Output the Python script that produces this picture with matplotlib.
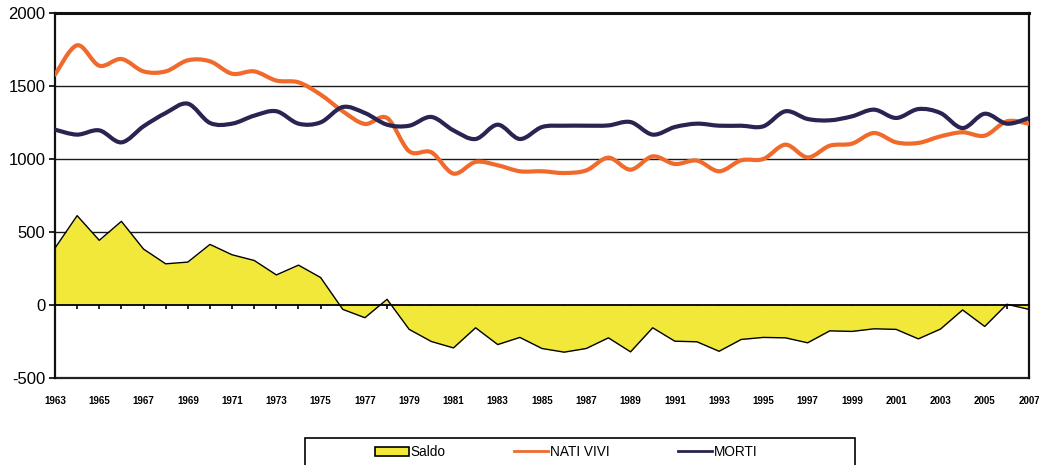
import numpy as np
import matplotlib
matplotlib.use("Agg")
import matplotlib.pyplot as plt
from matplotlib.path import Path
from matplotlib.patches import PathPatch, Rectangle, Patch
from matplotlib.lines import Line2D

plt.rcParams['font.family'] = ['Liberation Sans', 'DejaVu Sans']

years = list(range(1963, 2008))

nati_vivi = [1578, 1779, 1639, 1685, 1600, 1600, 1676, 1669, 1584, 1600,
             1537, 1525, 1441, 1327, 1240, 1281, 1053, 1046, 900, 980,
             957, 916, 916, 904, 922, 1009, 927, 1018, 966, 989,
             916, 991, 1000, 1098, 1011, 1091, 1105, 1178, 1114, 1110,
             1155, 1183, 1160, 1258, 1242]

morti = [1201, 1167, 1196, 1114, 1224, 1315, 1379, 1247, 1242, 1297,
         1327, 1242, 1251, 1356, 1315, 1235, 1228, 1288, 1196, 1137,
         1235, 1137, 1219, 1228, 1228, 1230, 1253, 1167, 1219, 1242,
         1228, 1228, 1224, 1327, 1274, 1265, 1292, 1338, 1281, 1342,
         1315, 1212, 1310, 1242, 1281]

saldo = [390, 612, 443, 573, 383, 282, 294, 415, 344, 305,
         206, 273, 188, -30, -87, 39, -167, -250, -294, -156,
         -271, -222, -298, -323, -298, -225, -321, -156, -248, -252,
         -317, -236, -222, -225, -259, -177, -181, -163, -167, -232,
         -165, -34, -147, 5, -30]

year_labels = [str(y) for y in years[::2]]

C_NATI = '#F06A2C'
C_MORTI = '#2A2452'
C_SALDO = '#F2E83A'


def smooth_path(xs, ys):
    """Bezier path through the points, Catmull-Rom style (like spreadsheet smoothed lines)."""
    pts = np.column_stack([xs, ys]).astype(float)
    n = len(pts)
    verts = [pts[0]]
    codes = [Path.MOVETO]
    for i in range(n - 1):
        p0 = pts[i - 1] if i > 0 else pts[i]
        p1 = pts[i]
        p2 = pts[i + 1]
        p3 = pts[i + 2] if i + 2 < n else pts[i + 1]
        c1 = p1 + (p2 - p0) / 6.0
        c2 = p2 - (p3 - p1) / 6.0
        verts += [c1, c2, p2]
        codes += [Path.CURVE4] * 3
    return Path(verts, codes)


fig = plt.figure(figsize=(10.39, 4.65), dpi=100)
ax = fig.add_axes([55 / 1039, 1 - 378 / 465, 974 / 1039, 365 / 465])

ax.set_xlim(1963, 2007)
ax.set_ylim(-500, 2000)

# horizontal gridlines
for yv in (500, 1000, 1500):
    ax.axhline(yv, color='#1a1a1a', lw=1.0, zorder=1)

# balance area
ax.fill_between(years, saldo, 0, color=C_SALDO, lw=0, zorder=2)
ax.plot(years, saldo, color='black', lw=1.0, zorder=3)

# births and deaths as smoothed lines
ax.add_patch(PathPatch(smooth_path(years, nati_vivi), fill=False,
                       edgecolor=C_NATI, lw=3.0, capstyle='round',
                       joinstyle='round', zorder=4))
ax.add_patch(PathPatch(smooth_path(years, morti), fill=False,
                       edgecolor=C_MORTI, lw=3.0, capstyle='round',
                       joinstyle='round', zorder=5))

# spines
for s in ('left', 'right'):
    ax.spines[s].set_linewidth(1.6)
    ax.spines[s].set_color('#111111')
ax.spines['top'].set_linewidth(2.2)
ax.spines['top'].set_color('#111111')
ax.spines['bottom'].set_position(('data', 0))
ax.spines['bottom'].set_linewidth(1.3)
ax.spines['bottom'].set_color('black')
ax.spines['bottom'].set_zorder(6)

# year ticks on the zero line, labels along the bottom
ax.set_xticks(years)
ax.tick_params(axis='x', direction='out', length=3, width=1.2,
               labelbottom=False, color='black')
sec = ax.secondary_xaxis(0)
sec.set_xticks(years[::2])
sec.set_xticklabels(year_labels, fontsize=7, fontweight='bold')
sec.tick_params(axis='x', length=0, pad=13)
sec.spines['bottom'].set_linewidth(1.6)
sec.spines['bottom'].set_color('#222222')

ax.set_yticks([-500, 0, 500, 1000, 1500, 2000])
ax.set_yticklabels(['-500', '0', '500', '1000', '1500', '2000'])
ax.tick_params(axis='y', direction='out', length=4, width=1.2,
               labelsize=12, pad=3, color='black')

# legend
handles = [
    Patch(facecolor=C_SALDO, edgecolor='black', lw=1.2),
    Line2D([], [], color=C_NATI, lw=2),
    Line2D([], [], color=C_MORTI, lw=2),
]
fig.legend(handles, ['Saldo', 'NATI VIVI', 'MORTI'], ncol=3,
           loc='center', bbox_to_anchor=(566 / 1039, 1 - 452 / 465),
           frameon=False, fontsize=9.8, handlelength=2.5,
           handleheight=0.6, handletextpad=0.15, columnspacing=5.0)
fig.add_artist(Rectangle((305 / 1039, -0.05), 550 / 1039, 0.05 + (465 - 438) / 465,
                         transform=fig.transFigure, fill=False,
                         edgecolor='black', lw=1.2))

fig.savefig('out.png', dpi=100)
